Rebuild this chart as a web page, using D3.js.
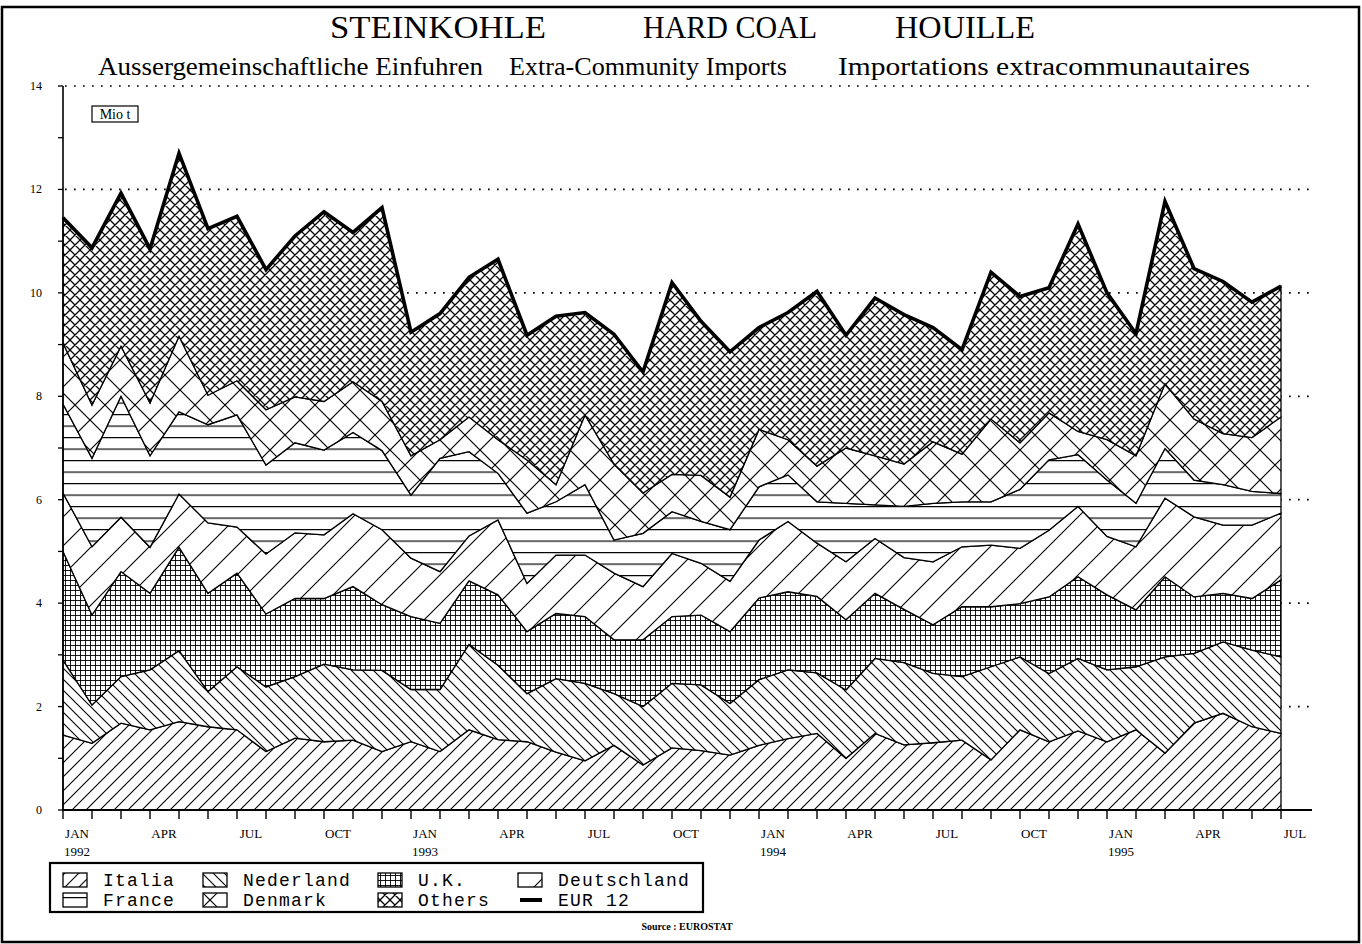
<!DOCTYPE html>
<html><head><meta charset="utf-8">
<script src="https://cdn.jsdelivr.net/npm/d3@7"></script>
<style>
html,body{margin:0;padding:0;background:#fff;}
svg{display:block;}
</style></head><body>
<svg id="chart" width="1362" height="944"></svg>
<script>
// ---------------- DATA ----------------
const months = [
 "1992-01","1992-02","1992-03","1992-04","1992-05","1992-06","1992-07","1992-08","1992-09","1992-10","1992-11","1992-12",
 "1993-01","1993-02","1993-03","1993-04","1993-05","1993-06","1993-07","1993-08","1993-09","1993-10","1993-11","1993-12",
 "1994-01","1994-02","1994-03","1994-04","1994-05","1994-06","1994-07","1994-08","1994-09","1994-10","1994-11","1994-12",
 "1995-01","1995-02","1995-03","1995-04","1995-05","1995-06","1995-07"];

const italia = [1.45,1.29,1.68,1.55,1.71,1.61,1.55,1.13,1.39,1.32,1.35,1.13,1.32,1.13,1.55,1.36,1.32,1.12,0.95,1.25,0.87,1.20,1.15,1.06,1.25,1.38,1.48,1.00,1.48,1.26,1.30,1.35,0.97,1.55,1.32,1.53,1.32,1.55,1.10,1.68,1.87,1.61,1.48];
const nederland = [1.45,0.74,0.90,1.16,1.37,0.68,1.22,1.25,1.19,1.50,1.36,1.57,1.01,1.20,1.65,1.44,0.93,1.42,1.50,1.00,1.13,1.25,1.27,1.00,1.27,1.33,1.17,1.32,1.45,1.59,1.34,1.23,1.80,1.41,1.32,1.40,1.39,1.22,1.86,1.35,1.38,1.48,1.48];
const uk = [2.10,1.74,2.03,1.48,2.00,1.90,1.81,1.41,1.51,1.27,1.61,1.27,1.41,1.28,1.23,1.36,1.20,1.26,1.29,1.04,1.29,1.29,1.35,1.39,1.58,1.51,1.48,1.36,1.26,1.03,0.94,1.35,1.16,1.03,1.48,1.58,1.45,1.10,1.55,1.09,0.94,1.00,1.49];
const deutschland = [1.13,1.32,1.05,0.89,1.03,1.36,0.89,1.16,1.27,1.23,1.41,1.45,1.13,1.00,0.87,1.45,0.93,1.13,1.19,1.29,1.03,1.22,1.00,0.97,1.12,1.36,1.03,1.12,1.06,1.00,1.22,1.16,1.19,1.07,1.29,1.36,1.13,1.22,1.52,1.55,1.32,1.42,1.29];
const france = [1.72,1.71,2.34,1.77,1.59,1.90,2.17,1.72,1.74,1.64,1.57,1.53,1.22,2.19,1.63,0.90,1.36,1.03,1.36,0.64,1.03,0.81,0.81,1.00,1.03,0.90,0.80,1.13,0.65,0.99,1.13,0.87,0.84,1.14,1.36,1.00,1.09,0.84,0.96,0.71,0.78,0.65,0.38];
const denmark = [1.18,1.03,0.97,1.02,1.46,0.57,0.66,1.07,0.89,0.94,0.98,0.95,0.76,0.36,0.67,0.65,1.03,0.33,1.35,1.47,0.78,0.72,0.89,0.63,1.11,0.68,0.69,1.07,0.95,0.82,1.19,0.92,1.60,0.90,0.91,0.45,0.78,0.92,1.25,1.18,0.99,1.04,1.48];
const others = [2.42,3.04,2.96,2.98,3.54,3.22,3.18,2.71,3.11,3.67,2.89,3.75,2.39,2.44,2.70,3.49,2.41,3.26,1.98,2.51,2.34,3.71,2.98,2.81,1.97,2.46,3.38,2.18,3.05,2.89,2.21,2.02,2.84,2.83,2.42,4.01,2.84,2.36,3.53,2.91,2.94,2.62,2.53];

const seriesKeys = ["italia","nederland","uk","deutschland","france","denmark","others"];
const seriesLabels = ["Italia","Nederland","U.K.","Deutschland","France","Denmark","Others"];
const totalLabel = "EUR 12";

const xTickLabelIdx = [0,3,6,9,12,15,18,21,24,27,30,33,36,39,42];
const xTickLabels = ["JAN","APR","JUL","OCT","JAN","APR","JUL","OCT","JAN","APR","JUL","OCT","JAN","APR","JUL"];
const yearIdx = [0,12,24,36];
const yearLabels = ["1992","1993","1994","1995"];
const yTicks = [0,1,2,3,4,5,6,7,8,9,10,11,12,13,14];
const yTickLabels = [0,2,4,6,8,10,12,14];
const gridValues = [2,4,6,8,10,12,14];

const titleParts = ["STEINKOHLE","HARD COAL","HOUILLE"];
const subtitleParts = ["Aussergemeinschaftliche Einfuhren","Extra-Community Imports","Importations extracommunautaires"];

// ---------------- BUILD ----------------
const seriesData = {italia,nederland,uk,deutschland,france,denmark,others};
const rows = months.map((m,i)=>{const r={month:m,i:i}; seriesKeys.forEach(k=>r[k]=seriesData[k][i]); return r;});
const stacked = d3.stack().keys(seriesKeys)(rows);

const svg = d3.select("#chart");
const serif = "'Liberation Serif','Times New Roman',serif";
const mono = "'Liberation Mono','Courier New',monospace";

const x = d3.scaleLinear().domain([0, months.length-1]).range([63,1281]);
const y = d3.scaleLinear().domain([0,14]).range([810,86]);
const xEnd = 1312;

// patterns
const defs = svg.append("defs");
function pat(id, w, h, d, sw){
  const p = defs.append("pattern").attr("id",id).attr("patternUnits","userSpaceOnUse")
    .attr("width",w).attr("height",h);
  p.append("rect").attr("width",w).attr("height",h).attr("fill","#fff");
  p.append("path").attr("d",d).attr("stroke","#000").attr("stroke-width",sw).attr("fill","none");
}
function fwd(s){return `M0,${s} L${s},0 M${-s/4},${s/4} L${s/4},${-s/4} M${3*s/4},${5*s/4} L${5*s/4},${3*s/4}`;}
function back(s){return `M0,0 L${s},${s} M${-s/4},${3*s/4} L${s/4},${5*s/4} M${3*s/4},${-s/4} L${5*s/4},${s/4}`;}
pat("p-italia",14,14,fwd(14),1.1);
pat("p-nederland",11,11,back(11),1.1);
pat("p-uk",5,5,"M0,0.5 H5 M0.5,0 V5",0.9);
pat("p-deutschland",29,29,fwd(29),1.1);
pat("p-france",20,11.5,"M0,0.6 H20",1.2);
pat("p-denmark",30,30,fwd(30)+" "+back(30),1.2);
pat("p-others",10,10,fwd(10)+" "+back(10),1.25);

// frame
svg.append("rect").attr("x",2).attr("y",7).attr("width",1357).attr("height",935)
  .attr("fill","none").attr("stroke","#000").attr("stroke-width",2.5);

// titles
const titleX = [330,643,895], titleW = [216,174,140];
svg.selectAll("text.title").data(titleParts).join("text").attr("class","title")
  .attr("x",(d,i)=>titleX[i]).attr("y",38)
  .attr("textLength",(d,i)=>titleW[i]).attr("lengthAdjust","spacingAndGlyphs")
  .attr("font-family",serif).attr("font-size",31).text(d=>d);
const subX = [98,509,838], subW = [385,278,412];
svg.selectAll("text.sub").data(subtitleParts).join("text").attr("class","sub")
  .attr("x",(d,i)=>subX[i]).attr("y",75)
  .attr("textLength",(d,i)=>subW[i]).attr("lengthAdjust","spacingAndGlyphs")
  .attr("font-family",serif).attr("font-size",26).text(d=>d);

// gridlines
svg.append("g").selectAll("line").data(gridValues).join("line")
  .attr("x1",x(0)+2).attr("x2",xEnd).attr("y1",d=>y(d)).attr("y2",d=>y(d))
  .attr("stroke","#000").attr("stroke-width",1.7).attr("stroke-dasharray","1.7,7.3");

// areas
const area = d3.area().x(d=>x(d.data.i)).y0(d=>y(d[0])).y1(d=>y(d[1]));
svg.append("g").selectAll("path").data(stacked).join("path")
  .attr("d",area).attr("fill",d=>`url(#p-${d.key})`)
  .attr("stroke","#000").attr("stroke-width",1.3).attr("stroke-linejoin","miter");

// total line (EUR 12)
const topLayer = stacked[stacked.length-1];
svg.append("path").datum(topLayer)
  .attr("d",d3.line().x(d=>x(d.data.i)).y(d=>y(d[1])))
  .attr("fill","none").attr("stroke","#000").attr("stroke-width",3.6).attr("stroke-linejoin","miter");

// y axis
svg.append("line").attr("x1",x(0)).attr("x2",x(0)).attr("y1",y(14)).attr("y2",y(0))
  .attr("stroke","#000").attr("stroke-width",1.6);
svg.append("g").selectAll("line").data(yTicks).join("line")
  .attr("x1",x(0)-5).attr("x2",x(0)).attr("y1",d=>y(d)).attr("y2",d=>y(d))
  .attr("stroke","#000").attr("stroke-width",1.3);
svg.append("g").selectAll("text").data(yTickLabels).join("text")
  .attr("x",x(0)-21).attr("y",d=>y(d)+4).attr("text-anchor","end")
  .attr("font-family",serif).attr("font-size",12).text(d=>d);

// Mio t box
svg.append("rect").attr("x",92).attr("y",106).attr("width",46).attr("height",16)
  .attr("fill","#fff").attr("stroke","#000").attr("stroke-width",1.2);
svg.append("text").attr("x",115).attr("y",119).attr("text-anchor","middle")
  .attr("font-family",serif).attr("font-size",14).text("Mio t");

// x axis
svg.append("line").attr("x1",x(0)).attr("x2",xEnd).attr("y1",y(0)).attr("y2",y(0))
  .attr("stroke","#000").attr("stroke-width",2.2);
svg.append("g").selectAll("line").data(months).join("line")
  .attr("x1",(d,i)=>x(i)).attr("x2",(d,i)=>x(i)).attr("y1",y(0)).attr("y2",y(0)+9)
  .attr("stroke","#000").attr("stroke-width",1.4);
const labOff = 14;
svg.append("g").selectAll("text").data(xTickLabels).join("text")
  .attr("x",(d,k)=>x(xTickLabelIdx[k])+labOff).attr("y",838).attr("text-anchor","middle")
  .attr("font-family",serif).attr("font-size",13).text(d=>d);
svg.append("g").selectAll("text").data(yearLabels).join("text")
  .attr("x",(d,k)=>x(yearIdx[k])+labOff).attr("y",856).attr("text-anchor","middle")
  .attr("font-family",serif).attr("font-size",13).text(d=>d);

// legend
const lg = svg.append("g");
lg.append("rect").attr("x",50).attr("y",863).attr("width",653).attr("height",49)
  .attr("fill","#fff").attr("stroke","#000").attr("stroke-width",2.2);
const legendItems = [
 {key:"italia",label:seriesLabels[0]},{key:"nederland",label:seriesLabels[1]},
 {key:"uk",label:seriesLabels[2]},{key:"deutschland",label:seriesLabels[3]},
 {key:"france",label:seriesLabels[4]},{key:"denmark",label:seriesLabels[5]},
 {key:"others",label:seriesLabels[6]},{key:"total",label:totalLabel}];
const colX = [63,203,378,518];
const rowY = [880,900];
legendItems.forEach((it,k)=>{
  const cx = colX[k%4], cy = rowY[Math.floor(k/4)];
  if(it.key==="total"){
    lg.append("line").attr("x1",cx+2).attr("x2",cx+24).attr("y1",cy).attr("y2",cy)
      .attr("stroke","#000").attr("stroke-width",4);
  } else {
    lg.append("rect").attr("x",cx).attr("y",cy-7).attr("width",24).attr("height",14)
      .attr("fill",`url(#p-${it.key})`).attr("stroke","#000").attr("stroke-width",1.3);
  }
  lg.append("text").attr("x",cx+40).attr("y",cy+5.5)
    .attr("font-family",mono).attr("font-size",18).attr("letter-spacing",1.2).text(it.label);
});

// source
svg.append("text").attr("x",687).attr("y",930).attr("text-anchor","middle")
  .attr("font-family",serif).attr("font-weight","bold").attr("font-size",10).text("Source : EUROSTAT");
</script>
</body></html>
